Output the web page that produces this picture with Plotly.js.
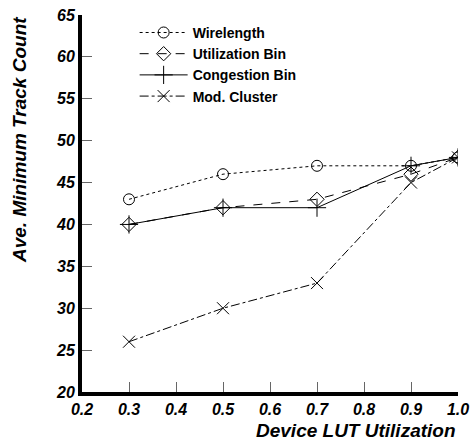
<!DOCTYPE html>
<html>
<head>
<meta charset="utf-8">
<script src="https://cdn.plot.ly/plotly-3.0.1.min.js"></script>
<style>
html,body{margin:0;padding:0;background:#fff;}
#chart{width:472px;height:440px;}
</style>
</head>
<body>
<div id="chart"></div>
<script>
const xValues = [0.3, 0.5, 0.7, 0.9, 1.0];
const wirelength = [43, 46, 47, 47, 48];
const utilizationBin = [40, 42, 43, 46, 48];
const congestionBin = [40, 42, 42, 47, 48];
const modCluster = [26, 30, 33, 45, 48];
const seriesNames = ['Wirelength', 'Utilization Bin', 'Congestion Bin', 'Mod. Cluster'];
const xTicks = [0.2, 0.3, 0.4, 0.5, 0.6, 0.7, 0.8, 0.9, 1.0];
const xTickText = ['0.2', '0.3', '0.4', '0.5', '0.6', '0.7', '0.8', '0.9', '1.0'];
const yTicks = [20, 25, 30, 35, 40, 45, 50, 55, 60, 65];
const yTickText = ['20', '25', '30', '35', '40', '45', '50', '55', '60', '65'];

const FONT = 'Liberation Sans, Arial, sans-serif';
const bi = s => '<b><i>' + s + '</i></b>';

function tr(name, y, dash, symbol, size) {
  return {
    x: xValues, y: y, name: name, type: 'scatter', mode: 'lines+markers',
    line: {color: '#000', width: 1, dash: dash},
    marker: {symbol: symbol, size: size, color: '#000', line: {color: '#000', width: 1}}
  };
}

const data = [
  tr(seriesNames[0], wirelength, 'dot', 'circle-open', 11),
  tr(seriesNames[1], utilizationBin, 'dash', 'diamond-open', 11),
  tr(seriesNames[2], congestionBin, 'solid', 'cross-thin-open', 13),
  tr(seriesNames[3], modCluster, 'dashdot', 'x-thin-open', 12)
];

const axisCommon = {
  showline: true, linecolor: '#000', linewidth: 4, mirror: false,
  ticks: 'inside', ticklen: 10, tickwidth: 1, tickcolor: '#666',
  showgrid: false, zeroline: false,
  tickfont: {family: FONT, size: 16, color: '#000', weight: 'bold', style: 'italic'}
};

const layout = {
  width: 472, height: 440,
  font: {family: FONT, size: 16, color: '#000'},
  margin: {l: 82, r: 14, t: 15, b: 48},
  paper_bgcolor: '#fff', plot_bgcolor: '#fff',
  showlegend: true,
  legend: {
    x: 0.14, y: 0.995, xanchor: 'left', yanchor: 'top',
    itemwidth: 48,
    bgcolor: 'rgba(0,0,0,0)', borderwidth: 0,
    font: {family: FONT, size: 14, color: '#000', weight: 'bold'}
  },
  xaxis: Object.assign({}, axisCommon, {
    range: [0.2, 1.0], tickmode: 'array', tickvals: xTicks, ticktext: xTickText.map(bi)
  }),
  yaxis: Object.assign({}, axisCommon, {
    range: [20, 65], tickmode: 'array', tickvals: yTicks, ticktext: yTickText.map(bi)
  }),
  annotations: [
    {text: bi('Device LUT Utilization'), xref: 'paper', yref: 'paper', x: 1.0, y: -0.103,
     xanchor: 'right', yanchor: 'middle', showarrow: false,
     font: {family: FONT, size: 19, color: '#000'}},
    {text: bi('Ave. Minimum Track Count'), xref: 'paper', yref: 'paper', x: -0.168, y: 0.668,
     xanchor: 'center', yanchor: 'middle', showarrow: false, textangle: -90,
     font: {family: FONT, size: 19, color: '#000'}}
  ]
};

Plotly.newPlot('chart', data, layout, {displayModeBar: false, staticPlot: true});
</script>
</body>
</html>
